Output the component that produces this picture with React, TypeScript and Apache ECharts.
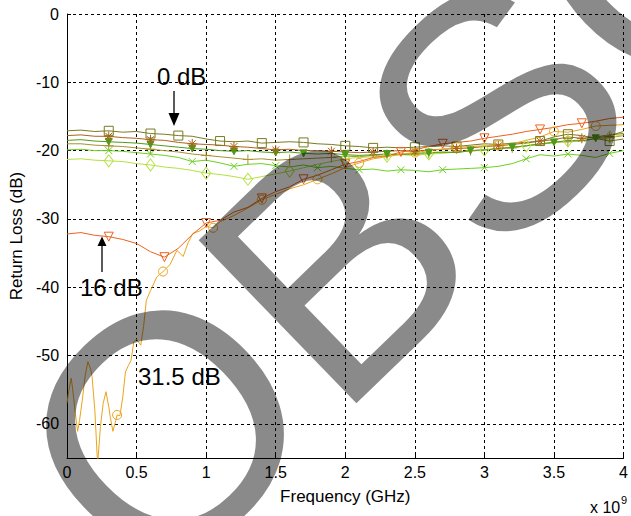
import React, { useEffect, useRef } from 'react';
import * as echarts from 'echarts';

// Frequency grid (GHz) shared by most traces
const freqGHz = [0, 0.1, 0.2, 0.3, 0.4, 0.5, 0.6, 0.7, 0.8, 0.9, 1.0, 1.1, 1.2, 1.3, 1.4, 1.5, 1.6, 1.7, 1.8, 1.9, 2.0,
  2.1, 2.2, 2.3, 2.4, 2.5, 2.6, 2.7, 2.8, 2.9, 3.0, 3.1, 3.2, 3.3, 3.4, 3.5, 3.6, 3.7, 3.8, 3.9, 4.0];

const rl0dB = [-17.1, -17.0, -17.2, -17.1, -17.3, -17.2, -17.5, -17.6, -17.8, -17.9, -18.3, -18.6, -18.7, -18.6, -18.9, -18.8, -18.7, -18.8, -19.0, -19.1, -19.3,
  -19.4, -19.6, -19.5, -19.6, -19.5, -19.4, -19.3, -19.4, -19.2, -19.0, -19.1, -18.9, -18.8, -18.6, -18.0, -17.6, -17.8, -18.2, -18.6, -18.3];
const rlB = [-17.8, -17.7, -17.9, -17.9, -18.1, -18.2, -18.4, -18.5, -18.8, -19.0, -19.1, -19.2, -19.4, -19.5, -19.7, -19.9, -19.8, -20.0, -20.0, -20.1, -20.2,
  -20.3, -20.2, -20.1, -20.0, -20.1, -19.9, -19.8, -19.7, -19.6, -19.4, -19.3, -19.1, -18.9, -18.6, -18.4, -18.0, -18.2, -18.0, -17.7, -17.5];
const rlC = [-18.5, -18.4, -18.6, -18.7, -18.8, -18.9, -19.1, -19.3, -19.5, -19.7, -19.8, -20.0, -20.1, -20.0, -20.2, -20.3, -20.2, -20.4, -20.5, -20.4, -20.6,
  -20.7, -20.6, -20.5, -20.6, -20.4, -20.3, -20.2, -20.3, -20.0, -19.9, -19.7, -19.5, -19.3, -19.0, -18.8, -18.5, -18.6, -18.2, -17.8, -17.2];
const rlD = [-19.0, -19.0, -19.2, -19.3, -19.4, -19.6, -19.8, -20.0, -20.2, -20.5, -20.7, -20.9, -21.1, -21.3, -21.2, -21.4, -21.3, -21.2, -21.1, -21.0, -20.8,
  -20.9, -20.7, -20.6, -20.5, -20.6, -20.4, -20.3, -20.2, -20.0, -19.9, -19.7, -19.6, -19.3, -19.1, -18.8, -18.7, -18.5, -18.3, -18.1, -17.8];
const rlE = [-19.9, -19.8, -20.0, -20.0, -20.1, -20.3, -20.5, -20.7, -21.0, -21.6, -21.4, -21.8, -22.3, -22.0, -21.9, -22.2, -22.4, -22.1, -22.5, -22.3, -22.6,
  -22.8, -22.7, -23.0, -22.8, -22.9, -23.1, -22.8, -22.7, -22.6, -22.5, -22.3, -21.9, -21.2, -20.6, -20.8, -20.5, -20.7, -21.0, -20.4, -20.0];
const rlF = [-21.3, -21.2, -21.4, -21.5, -21.6, -21.9, -22.1, -22.4, -22.6, -22.9, -23.3, -23.5, -23.8, -24.2, -23.8, -23.4, -23.0, -22.5, -22.0, -21.6, -21.2,
  -21.0, -20.9, -20.8, -20.6, -20.7, -20.5, -20.4, -20.2, -20.1, -19.9, -19.7, -19.5, -19.3, -19.0, -18.8, -18.6, -18.4, -18.3, -18.0, -17.7];
const rl16dB = [-32.2, -32.0, -32.4, -32.6, -33.0, -33.6, -34.8, -35.6, -34.3, -32.3, -30.6, -30.2, -29.0, -28.3, -27.0, -26.0, -25.3, -24.2, -23.6, -22.8, -22.0,
  -21.6, -21.0, -20.8, -20.2, -19.9, -19.4, -19.0, -18.8, -18.6, -18.2, -17.9, -17.6, -17.2, -16.9, -16.6, -16.2, -16.0, -15.7, -15.3, -15.1];

// 31.5 dB trace has its own (denser at low frequency) grid
const freq31 = [0, 0.01, 0.03, 0.04, 0.06, 0.076, 0.09, 0.11, 0.13, 0.15, 0.17, 0.18, 0.2, 0.22, 0.24, 0.26, 0.28, 0.3, 0.31, 0.33,
  0.35, 0.36, 0.38, 0.4, 0.42, 0.44, 0.46, 0.48, 0.5, 0.53, 0.55, 0.57, 0.6, 0.645, 0.69, 0.74, 0.79, 0.835, 0.87, 0.905,
  0.95, 1.0, 1.05, 1.1, 1.2, 1.3, 1.4, 1.5, 1.6, 1.7, 1.8, 1.9, 2.0, 2.1, 2.2, 2.3, 2.4, 2.5, 2.6, 2.7,
  2.8, 2.9, 3.0, 3.1, 3.2, 3.3, 3.4, 3.5, 3.6, 3.7, 3.8, 3.9, 4.0];
const rl31dB = [-57.0, -55.5, -53.3, -54.8, -58.5, -61.1, -59.5, -56.5, -53.0, -50.9, -52.0, -53.1, -58.0, -66.0, -60.4, -57.0, -55.3, -57.5, -58.9, -61.1,
  -59.5, -58.7, -58.8, -56.2, -52.4, -51.5, -50.7, -48.0, -47.6, -48.5, -45.8, -41.9, -40.5, -38.5, -37.7, -36.7, -34.6, -35.5, -33.5, -32.1,
  -31.8, -31.1, -31.3, -30.4, -29.5, -28.4, -27.2, -26.4, -25.6, -25.0, -24.2, -23.4, -22.5, -21.8, -21.2, -20.9, -20.5, -20.3, -20.0, -19.8,
  -19.5, -19.4, -19.3, -19.2, -19.0, -18.5, -18.0, -17.2, -17.3, -16.9, -16.4, -16.3, -16.2];

// Frequencies at which each trace shows its marker
const mk0dB = [0.3, 0.6, 0.8, 1.1, 1.4, 1.7, 2.0, 2.2, 2.5, 2.8, 3.1, 3.4, 3.6, 3.9];
const mkB = [0.3, 0.6, 0.9, 1.2, 1.5, 1.9, 2.2, 2.5, 2.8, 3.1, 3.4, 3.7];
const mkC = [0.3, 0.6, 0.9, 1.2, 1.5, 1.7, 2.0, 2.3, 2.6, 2.9, 3.2, 3.5, 3.8];
const mkD = [0.3, 0.6, 1.0, 1.3, 1.6, 1.9, 2.3, 2.6, 2.9, 3.2, 3.6, 3.9];
const mkE = [0.3, 0.6, 0.9, 1.2, 1.5, 1.8, 2.1, 2.4, 2.7, 3.0, 3.3, 3.6, 3.9];
const mkF = [0.3, 0.6, 1.0, 1.3, 1.6, 2.0, 2.3, 2.6, 3.0, 3.3, 3.6, 3.9];
const mk16 = [0.3, 0.7, 1.0, 1.4, 1.7, 2.0, 2.4, 2.7, 3.0, 3.4, 3.7];
const mk31 = [0.36, 0.69, 1.05, 1.4, 1.8, 2.1, 2.5, 2.8, 3.1, 3.5, 3.8];

const xTicks = [0, 0.5, 1, 1.5, 2, 2.5, 3, 3.5, 4];
const yTicks = [-60, -50, -40, -30, -20, -10, 0];

// Watermark letters
const watermarkLetters = ['O', 'B', 'S', 'O'];

const FONT = '"Liberation Sans", Arial, Helvetica, sans-serif';

const SYM_PLUS = 'path://M0,-5L0,5M-5,0L5,0';
const SYM_X = 'path://M-4,-4L4,4M-4,4L4,-4';
const SYM_AST = 'path://M0,-5L0,5M-5,0L5,0M-3.5,-3.5L3.5,3.5M-3.5,3.5L3.5,-3.5';

function mkSeries(name: string, xs: number[], ys: number[], marks: number[], color: string,
  symbol: string, size: number | number[], filled = false, rotate = 0) {
  return {
    type: 'line',
    name,
    silent: true,
    showSymbol: true,
    showAllSymbol: true,
    symbol,
    symbolSize: size,
    symbolRotate: rotate,
    data: xs.map((x, i) => ({ value: [x, ys[i]], symbol: marks.includes(x) ? symbol : 'none' })),
    lineStyle: { color, width: 1 },
    itemStyle: { color: filled ? color : 'transparent', borderColor: color, borderWidth: 1 },
    z: 3,
  };
}

export default function App() {
  const ref = useRef<HTMLDivElement>(null);
  useEffect(() => {
    const chart = echarts.init(ref.current as HTMLDivElement, null, { renderer: 'svg' });
    const axisText = { color: '#000', fontSize: 16, fontFamily: FONT };

    // watermark: letters placed along a line rotated 44 degrees
    const ang = (44 * Math.PI) / 180;
    const wmSize = 330;
    const advances = [0.778, 0.667, 0.667, 0.778];
    const startX = 165, startY = 429; // centre of first letter
    let along = 0;
    const wm: any[] = watermarkLetters.map((ch, i) => {
      if (i > 0) along += ((advances[i - 1] + advances[i]) / 2) * wmSize;
      return {
        type: 'text', x: startX + along * Math.cos(ang), y: startY - along * Math.sin(ang),
        rotation: ang, z: 100, silent: true,
        style: { text: ch, font: `${wmSize}px ${FONT}`, fill: 'rgba(0,0,0,0.46)', align: 'center', verticalAlign: 'middle' },
      };
    });

    const option: any = {
      animation: false,
      backgroundColor: '#fff',
      grid: { left: 66, right: 3, top: 14, bottom: 58, containLabel: false },
      xAxis: {
        type: 'value', min: 0, max: 4, interval: 0.5,
        name: 'Frequency (GHz)', nameLocation: 'middle', nameGap: 30,
        nameTextStyle: { color: '#000', fontSize: 17, fontFamily: FONT },
        axisLine: { show: true, onZero: false, lineStyle: { color: '#000', width: 1 } },
        axisTick: { show: true, inside: true, length: 4, lineStyle: { color: '#000' } },
        axisLabel: { ...axisText, margin: 6, showMinLabel: true, showMaxLabel: true, hideOverlap: false,
          formatter: (v: number) => (xTicks.includes(v) ? String(v) : '') },
        splitLine: { show: true, lineStyle: { color: '#000', width: 1, type: [3, 3] } },
      },
      yAxis: {
        type: 'value', min: -65, max: 0,
        name: 'Return Loss (dB)', nameLocation: 'middle', nameGap: 39,
        nameTextStyle: { color: '#000', fontSize: 17, fontFamily: FONT },
        axisLine: { show: true, onZero: false, lineStyle: { color: '#000', width: 1 } },
        axisTick: { show: true, inside: true, length: 4, lineStyle: { color: '#000' }, customValues: yTicks },
        axisLabel: { ...axisText, margin: 8, customValues: yTicks, showMinLabel: true, showMaxLabel: true },
        splitLine: { show: true, lineStyle: { color: '#000', width: 1, type: [3, 3] } },
      },
      series: [
        mkSeries('2 dB', freqGHz, rlD, mkD, '#a89030', SYM_PLUS, 10),
        mkSeries('8 dB', freqGHz, rlF, mkF, '#b6e040', 'diamond', [9, 12]),
        mkSeries('4 dB', freqGHz, rlE, mkE, '#6cd020', SYM_X, 7),
        mkSeries('1 dB', freqGHz, rlC, mkC, '#4e9a1a', 'triangle', 7, true, 180),
        mkSeries('0.5 dB', freqGHz, rlB, mkB, '#b0601a', SYM_AST, 10),
        mkSeries('0 dB', freqGHz, rl0dB, mk0dB, '#7a7a22', 'rect', 9),
        mkSeries('31.5 dB', freq31, rl31dB, mk31, '#eaa41c', 'circle', 9),
        mkSeries('16 dB', freqGHz, rl16dB, mk16, '#ee621e', 'triangle', 9, false, 180),
      ],
      graphic: [
        { type: 'text', x: 157, y: 76.6, z: 50, silent: true,
          style: { text: '0 dB', font: `24px ${FONT}`, fill: '#000', align: 'left', verticalAlign: 'middle' } },
        { type: 'line', z: 50, silent: true, shape: { x1: 174, y1: 91, x2: 174, y2: 115 }, style: { stroke: '#000', lineWidth: 1.3 } },
        { type: 'polygon', z: 50, silent: true, shape: { points: [[168.5, 113], [179.5, 113], [174, 126]] }, style: { fill: '#000' } },
        { type: 'text', x: 80, y: 287.6, z: 50, silent: true,
          style: { text: '16 dB', font: `24px ${FONT}`, fill: '#000', align: 'left', verticalAlign: 'middle' } },
        { type: 'line', z: 50, silent: true, shape: { x1: 102, y1: 272, x2: 102, y2: 244 }, style: { stroke: '#000', lineWidth: 1.3 } },
        { type: 'polygon', z: 50, silent: true, shape: { points: [[97.5, 246], [106.5, 246], [102, 236.5]] }, style: { fill: '#000' } },
        { type: 'text', x: 138, y: 376.6, z: 50, silent: true,
          style: { text: '31.5 dB', font: `24px ${FONT}`, fill: '#000', align: 'left', verticalAlign: 'middle' } },
        { type: 'text', x: 590, y: 507, z: 50, silent: true,
          style: { text: 'x 10', font: `16px ${FONT}`, fill: '#000', align: 'left', verticalAlign: 'middle' } },
        { type: 'text', x: 621, y: 500, z: 50, silent: true,
          style: { text: '9', font: `11px ${FONT}`, fill: '#000', align: 'left', verticalAlign: 'middle' } },
        ...wm,
      ],
    };
    chart.setOption(option);
    return () => chart.dispose();
  }, []);
  return <div ref={ref} style={{ position: 'fixed', left: 0, top: 0, width: 631, height: 516, background: '#fff' }} />;
}
